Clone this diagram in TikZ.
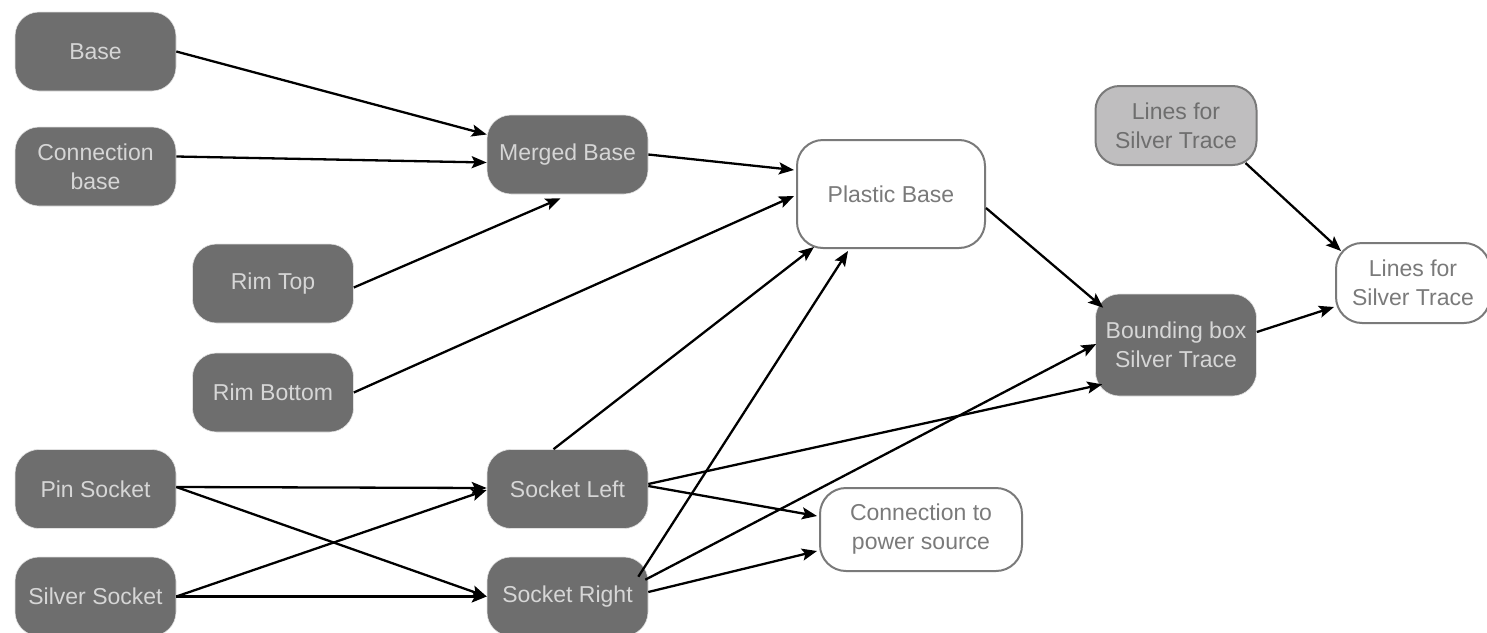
\documentclass[tikz,border=0pt]{standalone}
\usepackage{fontspec}
\setmainfont{Liberation Sans}
\usetikzlibrary{arrows.meta}
\definecolor{darkfill}{HTML}{6E6E6E}
\definecolor{darktext}{HTML}{D6D6D6}
\definecolor{edgegray}{HTML}{7A7A7A}
\definecolor{midfill}{HTML}{BFBEBF}
\tikzset{
  every node/.style={font=\fontsize{23}{29}\selectfont, align=center, inner sep=0pt},
  darkbox/.style={fill=darkfill, draw=darktext!70, line width=0.6pt, text=darktext,
    rounded corners=24pt, minimum width=161pt, minimum height=79pt},
  whitebox/.style={fill=white, draw=edgegray, line width=2pt, text=edgegray,
    rounded corners=26pt},
  graybox/.style={fill=midfill, draw=edgegray, line width=2pt, text=edgegray!90!black,
    rounded corners=24pt, minimum width=161pt, minimum height=79pt},
  link/.style={line width=2.3pt, draw=black,
    -{Stealth[length=15pt, width=12pt, inset=3pt]}},
}
\begin{document}
\begin{tikzpicture}[x=1pt, y=-1pt]
\useasboundingbox (0,0) rectangle (1487,632);

% source parts
\node[darkbox] (base)   at (95.5,51.5)  {Base};
\node[darkbox] (cbase)  at (95.5,166.5) {Connection\\base};
\node[darkbox] (rimtop) at (273,283.5)  {Rim Top};
\node[darkbox] (rimbot) at (273,392.5)  {Rim Bottom};
\node[darkbox] (pin)    at (95.5,489)   {Pin Socket};
\node[darkbox] (silver) at (95.5,596.5) {Silver Socket};

% intermediate parts
\node[darkbox] (merged) at (567.5,154.5) {Merged Base};
\node[darkbox] (sleft)  at (567.5,489)   {Socket Left};
\node[darkbox] (sright) at (567.5,596.5) {Socket Right};
\node[darkbox, minimum height=102pt] (bbox) at (1176,345) {Bounding box\\Silver Trace};

% results
\node[whitebox, minimum width=188pt, minimum height=108pt] (plastic) at (891,194) {Plastic Base};
\node[whitebox, minimum width=202pt, minimum height=83pt]  (power)   at (921,529.5) {Connection to\\power source};
\node[graybox] (lgray) at (1176,125.5) {Lines for\\Silver Trace};
\node[whitebox, minimum width=154pt, minimum height=80pt] (lwhite) at (1413,283) {Lines for\\Silver Trace};

% connectors
\draw[link] (base.east) -- ([yshift=20pt]merged.west);
\draw[link] ([yshift=10pt]cbase.east) -- ([yshift=-8pt]merged.west);
\draw[link] ([yshift=-4pt]rimtop.east) -- ([xshift=-7pt,yshift=-4pt]merged.south);
\draw[link] (rimbot.east) -- ([xshift=-2pt,yshift=-2pt]plastic.west);
\draw[link] (merged.east) -- ([xshift=-2pt,yshift=24pt]plastic.west);

\draw[link] ([yshift=2pt]pin.east) -- ([yshift=1pt]sleft.west);
\draw[link] ([yshift=2pt]pin.east) -- (sright.west);
\draw[link] (silver.east) -- ([yshift=-1pt]sleft.west);
\draw[link] (silver.east) -- (sright.west);

\draw[link] ([xshift=-14pt]sleft.north) -- ([xshift=18pt,yshift=2pt]plastic.south west);
\draw[link] ([xshift=-10pt,yshift=-20pt]sright.north east) -- ([xshift=-43pt,yshift=-2pt]plastic.south);
\draw[link] ([yshift=5pt]sleft.east) -- ([xshift=7pt,yshift=12pt]bbox.south west);
\draw[link] ([yshift=3pt]sleft.east) -- ([xshift=-2pt,yshift=13.5pt]power.west);
\draw[link] ([xshift=-3pt,yshift=-23pt]sright.north east) -- ([xshift=1pt,yshift=1pt]bbox.west);
\draw[link] ([yshift=4.5pt]sright.east) -- ([xshift=-2pt,yshift=-21.5pt]power.west);

\draw[link] ([yshift=-14pt]plastic.east) -- ([xshift=8pt,yshift=-14pt]bbox.north west);
\draw[link] ([xshift=-12pt,yshift=3pt]lgray.south east) -- ([xshift=6pt,yshift=-9pt]lwhite.north west);
\draw[link] ([yshift=13pt]bbox.east) -- ([xshift=-1pt,yshift=-24pt]lwhite.west);
\end{tikzpicture}
\end{document}
